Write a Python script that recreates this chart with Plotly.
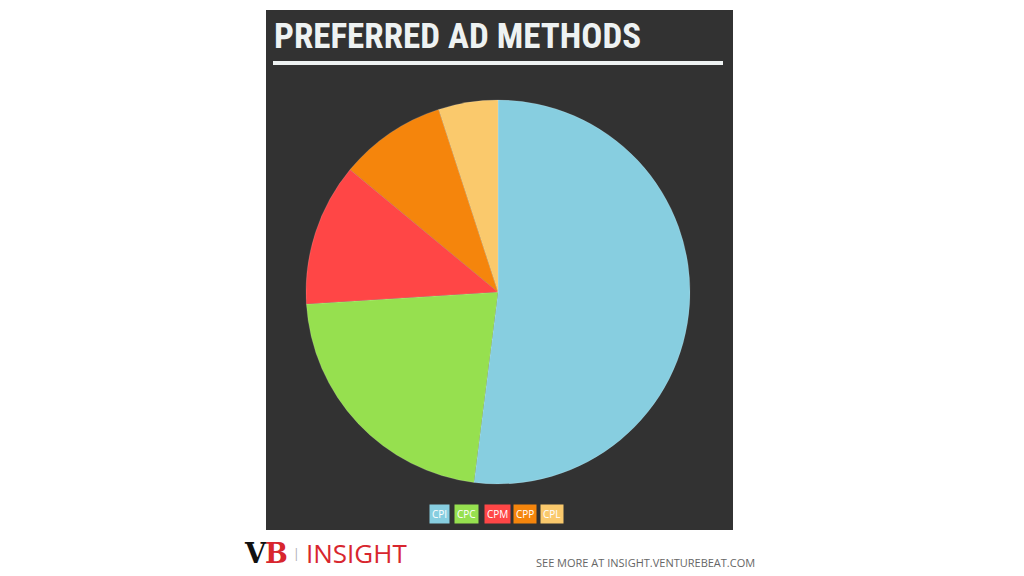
import plotly.graph_objects as go

labels = ["CPI", "CPC", "CPM", "CPP", "CPL"]
values = [52, 22, 12, 9, 5]
colors = ["#87CEE0", "#96E04F", "#FF4646", "#F5850C", "#FAC96C"]
title_text = "PREFERRED AD METHODS"

W, H = 1024, 576

def px(x):
    return x / W

def py(y):
    return 1 - y / H

fig = go.Figure()
fig.add_trace(go.Pie(
    labels=labels, values=values, sort=False, direction="clockwise", rotation=0,
    marker=dict(colors=colors, line=dict(color="rgba(255,255,255,0.25)", width=0.6)),
    textinfo="none", hoverinfo="label+value", showlegend=False,
    domain=dict(x=[px(306), px(690)], y=[py(484), py(100)]),
))

shapes = [
    dict(type="rect", xref="paper", yref="paper", x0=px(266), x1=px(733), y0=py(530), y1=py(10),
         fillcolor="#323232", line=dict(width=0), layer="below"),
    dict(type="rect", xref="paper", yref="paper", x0=px(273), x1=px(723), y0=py(65), y1=py(61),
         fillcolor="#EEF2F2", line=dict(width=0)),
]

annotations = [
    dict(text="<b>" + title_text + "</b>", x=px(272), y=py(36), xref="paper", yref="paper",
         xanchor="left", yanchor="middle", showarrow=False,
         font=dict(family="Roboto Condensed, Roboto", size=35, color="#EEF2F2")),
]

# legend chips
centers = [439, 466, 497, 525, 552]
for lab, col, cx in zip(labels, colors, centers):
    annotations.append(dict(text=lab, x=px(cx), y=py(514), xref="paper", yref="paper",
                            xanchor="center", yanchor="middle", showarrow=False,
                            bgcolor=col, borderpad=2,
                            font=dict(family="Open Sans", size=10, color="#FFFFFF")))

# footer
annotations += [
    dict(text="<b>V</b>", x=px(242), y=py(553), xref="paper", yref="paper", xanchor="left",
         yanchor="middle", showarrow=False,
         font=dict(family="DejaVu Serif", size=27, color="#111111")),
    dict(text="<b>B</b>", x=px(263), y=py(553), xref="paper", yref="paper", xanchor="left",
         yanchor="middle", showarrow=False,
         font=dict(family="DejaVu Serif", size=27, color="#D8262E")),
    dict(text="|", x=px(296), y=py(553), xref="paper", yref="paper", xanchor="center",
         yanchor="middle", showarrow=False,
         font=dict(family="Open Sans", size=12, color="#AAAAAA")),
    dict(text="INSIGHT", x=px(304), y=py(553), xref="paper", yref="paper", xanchor="left",
         yanchor="middle", showarrow=False,
         font=dict(family="Open Sans", size=26, color="#D8262E")),
    dict(text="SEE MORE AT INSIGHT.VENTUREBEAT.COM", x=px(757), y=py(562), xref="paper", yref="paper",
         xanchor="right", yanchor="middle", showarrow=False,
         font=dict(family="Open Sans", size=11, color="#666666")),
]

fig.update_layout(
    width=W, height=H, margin=dict(l=0, r=0, t=0, b=0),
    paper_bgcolor="#FFFFFF", plot_bgcolor="#FFFFFF",
    shapes=shapes, annotations=annotations, showlegend=False,
)

fig.write_html("out.html")
